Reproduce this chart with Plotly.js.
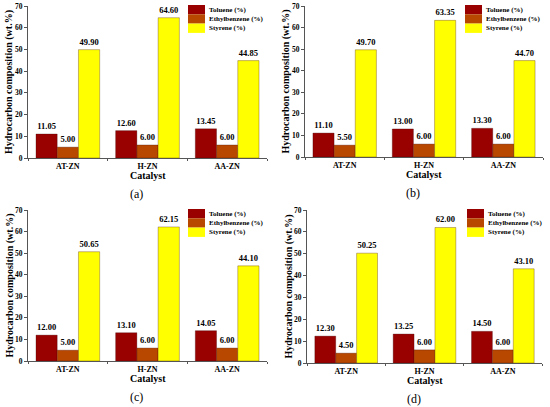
<!DOCTYPE html>
<html>
<head>
<meta charset="utf-8">
<script src="https://cdn.plot.ly/plotly-3.0.1.min.js"></script>
<style>
html,body{margin:0;padding:0;background:#fff;}
#chart{width:550px;height:407px;}
</style>
</head>
<body>
<div id="chart"></div>
<script>
// ---- data ----
const categories = ['AT-ZN', 'H-ZN', 'AA-ZN'];
const seriesNames = ['Toluene (%)', 'Ethylbenzene (%)', 'Styrene (%)'];
const panelLabels = ['(a)', '(b)', '(c)', '(d)'];
const yTickVals = [0, 10, 20, 30, 40, 50, 60, 70];

const tolueneA = [11.05, 12.60, 13.45];
const ethylbenzeneA = [5.00, 6.00, 6.00];
const styreneA = [49.90, 64.60, 44.85];

const tolueneB = [11.10, 13.00, 13.30];
const ethylbenzeneB = [5.50, 6.00, 6.00];
const styreneB = [49.70, 63.35, 44.70];

const tolueneC = [12.00, 13.10, 14.05];
const ethylbenzeneC = [5.00, 6.00, 6.00];
const styreneC = [50.65, 62.15, 44.10];

const tolueneD = [12.30, 13.25, 14.50];
const ethylbenzeneD = [4.50, 6.00, 6.00];
const styreneD = [50.25, 62.00, 43.10];

const panelsData = [
  [tolueneA, ethylbenzeneA, styreneA],
  [tolueneB, ethylbenzeneB, styreneB],
  [tolueneC, ethylbenzeneC, styreneC],
  [tolueneD, ethylbenzeneD, styreneD]
];

// ---- styling ----
const colors = ['#990000', '#b84800', '#ffff00'];
const W = 550, H = 407;
const FONT = "'Liberation Serif', 'Times New Roman', serif";
// panel plot-area boxes in pixels [x0, x1, yTop, yBottom]
const boxes = [
  [28, 267, 6, 158],
  [305, 543, 6, 157],
  [28, 267, 210, 361],
  [307, 542, 210, 363]
];
const px = x => x / W;
const py = y => 1 - y / H;

const traces = [];
const layout = {
  width: W, height: H,
  margin: {l: 0, r: 0, t: 0, b: 0},
  paper_bgcolor: '#fff', plot_bgcolor: '#fff',
  showlegend: false,
  barmode: 'group',
  bargap: 0.2,
  bargroupgap: 0,
  font: {family: FONT, color: '#000'},
  annotations: [],
  shapes: []
};

boxes.forEach((b, i) => {
  const n = i + 1;
  const xa = 'x' + (n === 1 ? '' : n);
  const ya = 'y' + (n === 1 ? '' : n);
  const xKey = 'xaxis' + (n === 1 ? '' : n);
  const yKey = 'yaxis' + (n === 1 ? '' : n);

  panelsData[i].forEach((vals, s) => {
    traces.push({
      type: 'bar',
      x: categories,
      y: vals,
      name: seriesNames[s],
      xaxis: xa, yaxis: ya,
      marker: {color: colors[s], line: {color: 'rgba(60,0,0,0.6)', width: 0.5}},
      text: vals.map(v => v.toFixed(2)),
      textposition: 'outside',
      textfont: {family: FONT, size: 8.5, color: '#000', weight: 'bold'},
      constraintext: 'none',
      cliponaxis: false,
      hoverinfo: 'skip'
    });
  });

  layout[xKey] = {
    domain: [px(b[0]), px(b[1])],
    anchor: ya,
    range: [-0.5, 2.5],
    showline: true, linecolor: '#555', linewidth: 1,
    ticks: 'outside', ticklen: 2, tickcolor: '#555',
    tickson: 'boundaries',
    tickfont: {family: FONT, size: 8, color: '#000', weight: 'bold'},
    showgrid: false, zeroline: false, fixedrange: true
  };
  layout[yKey] = {
    domain: [py(b[3]), py(b[2])],
    anchor: xa,
    range: [0, 70],
    tickvals: yTickVals,
    showline: true, linecolor: '#555', linewidth: 1,
    ticks: 'outside', ticklen: 3, tickcolor: '#555',
    tickfont: {family: FONT, size: 7.5, color: '#000', weight: 'bold'},
    showgrid: false, zeroline: false, fixedrange: true
  };

  const cx = (b[0] + b[1]) / 2;
  // y title
  layout.annotations.push({
    xref: 'paper', yref: 'paper',
    x: px(b[0] - 19), y: py((b[2] + b[3]) / 2),
    xanchor: 'center', yanchor: 'middle',
    text: 'Hydrocarbon composition (wt.%)',
    textangle: -90, showarrow: false,
    font: {family: FONT, size: 10, color: '#000', weight: 'bold'}
  });
  // x title
  layout.annotations.push({
    xref: 'paper', yref: 'paper',
    x: px(cx), y: py(b[3] + 17.5),
    xanchor: 'center', yanchor: 'middle',
    text: 'Catalyst', showarrow: false,
    font: {family: FONT, size: 10, color: '#000', weight: 'bold'}
  });
  // panel label
  layout.annotations.push({
    xref: 'paper', yref: 'paper',
    x: px(cx - 11), y: py(b[3] + 36),
    xanchor: 'center', yanchor: 'middle',
    text: panelLabels[i], showarrow: false,
    font: {family: FONT, size: 12, color: '#000'}
  });
  // legend (swatches + labels)
  const lx = b[0] + 160, ly = b[2] - 1, rowH = 9.3, swW = 17;
  seriesNames.forEach((nm, s) => {
    layout.shapes.push({
      type: 'rect', xref: 'paper', yref: 'paper',
      x0: px(lx), x1: px(lx + swW),
      y0: py(ly + rowH * (s + 1)), y1: py(ly + rowH * s),
      fillcolor: colors[s], line: {width: 0}
    });
    layout.annotations.push({
      xref: 'paper', yref: 'paper',
      x: px(lx + swW + 2), y: py(ly + rowH * (s + 0.5)),
      xanchor: 'left', yanchor: 'middle',
      text: nm, showarrow: false,
      font: {family: FONT, size: 7, color: '#000', weight: 'bold'}
    });
  });
});

Plotly.newPlot('chart', traces, layout, {staticPlot: true, displayModeBar: false});
</script>
</body>
</html>
